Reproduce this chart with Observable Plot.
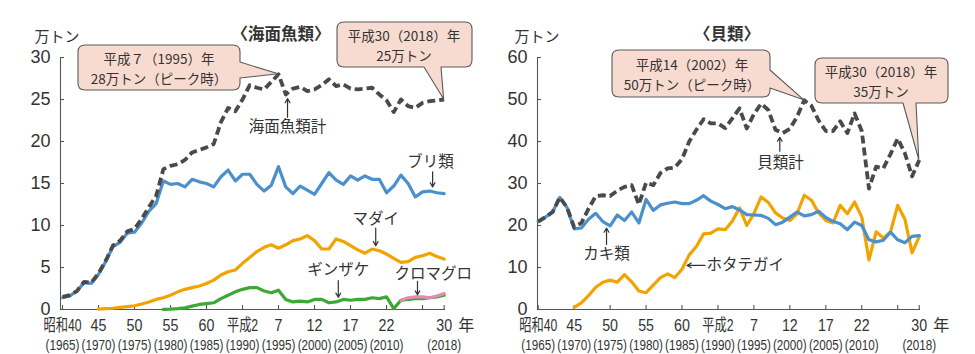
<!DOCTYPE html>
<html lang="ja"><head><meta charset="utf-8">
<script src="https://cdn.jsdelivr.net/npm/d3@7"></script>
<script src="https://cdn.jsdelivr.net/npm/@observablehq/plot@0.6"></script>
<style>
html,body{margin:0;padding:0;background:#fff;}
#wrap{display:flex;width:975px;height:354px;overflow:hidden;}
#wrap svg{display:block;flex:none;overflow:visible;}
</style></head><body><div id="wrap"></div>
<script>
const FONT = '"Liberation Sans", Arial, "Noto Sans CJK JP", sans-serif';
const JFONT = '"Noto Sans CJK JP", "Liberation Sans", sans-serif';

// ---------------- data (万トン) ----------------
// 海面魚類
const finfishTotal = [1.5,1.7,2.2,3.3,3.2,4.3,5.8,7.6,8.2,9.3,
  9.6,10.8,12.2,13.5,16.7,17.1,17.3,17.8,18.7,19.0,
  19.3,19.7,22.3,24.0,23.6,25.0,26.7,26.4,26.2,27.1,
  28.0,25.6,26.3,26.5,26.0,26.2,26.7,27.4,26.6,26.8,
  26.3,26.2,26.3,26.4,25.6,24.9,23.5,25.0,24.2,24.0,
  24.6,24.8,24.9,25.0];                       // 1965-2018
const yellowtail = [1.4,1.6,2.2,3.2,3.1,4.2,5.7,7.5,8.0,9.1,
  9.2,10.3,11.7,12.6,15.3,14.9,15.0,14.6,15.5,15.2,
  15.0,14.6,15.8,16.6,15.3,16.1,16.1,14.9,14.1,14.8,
  17.0,14.6,13.8,14.7,14.2,13.7,15.0,16.3,15.4,14.9,
  15.9,15.4,15.9,15.5,15.5,13.9,14.7,16.0,15.0,13.4,
  14.0,14.1,13.9,13.8];                       // 1965-2018 ブリ類
const redSeaBream = [0.05,0.1,0.15,0.25,0.35,0.45,0.65,0.9,1.2,1.4,
  1.7,2.1,2.4,2.6,2.8,3.1,3.5,4.1,4.5,4.7,
  5.5,6.2,6.9,7.4,7.7,7.3,7.7,8.2,8.4,8.8,
  8.2,7.2,7.2,8.4,8.1,7.6,7.1,6.7,7.2,7.0,
  6.6,6.1,5.6,5.7,6.2,6.4,6.7,6.3,6.0];      // 1970-2018 マダイ
const cohoSalmon = [0.02,0.05,0.1,0.2,0.4,0.6,0.7,0.8,1.3,1.7,
  2.1,2.4,2.6,2.6,2.2,2.0,2.3,1.2,0.9,1.0,
  0.9,1.2,1.2,0.8,0.9,1.2,1.1,1.2,1.2,1.4,
  1.3,1.5,0.1,1.1,1.2,1.3,1.3,1.4,1.5,1.7];  // 1979-2018 ギンザケ
const bluefinTuna = [1.1,1.4,1.5,1.5,1.4,1.6,1.9]; // 2012-2018 クロマグロ

// 貝類
const shellTotal = [20.9,22.0,23.2,26.7,24.3,19.6,20.6,24.0,27.0,27.2,
  27.0,28.3,29.2,29.6,25.0,30.2,29.6,32.5,33.6,33.8,
  35.8,40.0,42.8,45.3,44.3,44.3,43.2,45.5,47.9,43.1,
  46.5,49.0,47.5,42.8,42.0,43.0,45.9,49.8,48.5,45.0,
  42.5,42.5,44.8,42.0,46.7,42.5,28.8,34.0,33.6,37.0,
  40.7,37.2,31.7,35.6];                       // 1965-2018
const oyster = [20.9,22.0,23.2,26.7,24.3,19.2,19.4,21.5,22.9,20.9,
  19.9,22.5,21.2,23.2,20.6,26.2,23.6,24.9,25.3,25.6,
  25.2,25.2,26.0,27.1,25.8,25.0,24.0,24.5,23.7,22.6,
  22.5,22.4,21.7,20.2,20.8,22.0,23.2,22.3,22.6,23.4,
  21.9,21.0,20.4,19.0,20.8,20.0,16.6,16.1,16.5,18.4,
  16.6,15.9,17.4,17.6];                       // 1965-2018 カキ類
const scallop = [0.5,1.6,3.3,5.3,6.5,7.0,6.5,8.3,6.6,4.4,
  4.0,5.8,7.6,8.5,7.6,9.6,13.0,15.0,18.0,18.2,
  19.2,19.0,21.0,24.2,20.0,22.8,26.8,25.5,23.0,21.8,
  21.2,22.8,27.2,26.0,23.0,21.2,20.6,24.8,22.8,25.6,
  22.0,11.8,18.5,17.0,18.5,24.8,21.5,13.5,17.4]; // 1970-2018 ホタテガイ

// axes
const xTickYears = [1965,1970,1975,1980,1985,1990,1995,2000,2005,2010,2015,2018];
const xLabelYears = [1965,1970,1975,1980,1985,1990,1995,2000,2005,2010,2018];
const xLabelEra = ["昭和40","45","50","55","60","平成2","7","12","17","22","30"];
const xLabelAD = ["(1965)","(1970)","(1975)","(1980)","(1985)","(1990)","(1995)","(2000)","(2005)","(2010)","(2018)"];
const fishYTicks = [0,5,10,15,20,25,30];
const shellYTicks = [0,10,20,30,40,50,60];

// ---------------- helpers ----------------
const rows = (start, values) => values.map((v, i) => ({year: start + i, value: v}));
const xlab = xLabelYears.map((y, i) => ({year: y, era: xLabelEra[i], ad: xLabelAD[i]}));
const AX = "#555", TXT = "#333";
const C = {total: "#4a4a4a", blue: "#4b8fcd", orange: "#f3a300", green: "#3ca836", pink: "#e888b4"};
const ERA_SIZE = 17, AD_SIZE = 15;

function panel({width, ml, mr, xDomain, yMax, yTicks, lines, labels, startLabels, arrows}) {
  const height = 354, mt = 57, mb = 45;
  const frameW = width - ml - mr, frameH = height - mt - mb;
  return Plot.plot({
    width, height, marginLeft: ml, marginRight: mr, marginTop: mt, marginBottom: mb,
    x: {domain: xDomain, axis: null},
    y: {domain: [0, yMax], axis: null},
    style: {fontFamily: FONT, color: TXT, background: "transparent", overflow: "visible"},
    marks: [
      Plot.ruleX([xDomain[0]], {stroke: AX, strokeWidth: 1.1}),
      Plot.ruleY([0], {stroke: AX, strokeWidth: 1.1}),
      Plot.ruleY(yTicks, {stroke: AX, strokeWidth: 1.1, insetRight: frameW - 4}),
      Plot.ruleX(xTickYears, {stroke: AX, strokeWidth: 1.1, insetTop: frameH - 4}),
      Plot.text(yTicks, {frameAnchor: "left", y: d => d, text: d => String(d), textAnchor: "end", dx: -10, fontSize: 18, fill: TXT}),
      Plot.text(xlab, {x: "year", text: "era", frameAnchor: "bottom", lineAnchor: "middle", dy: 16, fontSize: ERA_SIZE, fill: TXT}),
      Plot.text(xlab, {x: "year", text: "ad", frameAnchor: "bottom", lineAnchor: "middle", dy: 36, fontSize: AD_SIZE, fill: TXT}),
      Plot.text([{year: 2018, t: "年"}], {x: "year", text: "t", frameAnchor: "bottom", lineAnchor: "middle", dx: 22, dy: 16, fontSize: 16, fontFamily: JFONT, fill: TXT}),
      ...lines.map(l => Plot.line(l.data, {x: "year", y: "value", stroke: l.stroke, strokeWidth: l.w || 3.2,
        strokeDasharray: l.dash, strokeLinejoin: "round", strokeLinecap: l.dash ? "butt" : "round"})),
      Plot.arrow(arrows, {x1: "x1", y1: "y1", x2: "x2", y2: "y2", stroke: TXT, strokeWidth: 1.2, headLength: 6}),
      Plot.text(labels, {x: "x", y: "y", text: "t", textAnchor: "middle", fontSize: 15.5, fontFamily: JFONT, fill: TXT}),
      Plot.text(startLabels || [], {x: "x", y: "y", text: "t", textAnchor: "start", fontSize: 15.5, fontFamily: JFONT, fill: TXT})
    ]
  });
}

const left = panel({
  width: 487, ml: 60, mr: 42, xDomain: [1964.72, 2018.19], yMax: 30, yTicks: fishYTicks,
  lines: [
    {data: rows(1970, redSeaBream), stroke: C.orange},
    {data: rows(1979, cohoSalmon), stroke: C.green},
    {data: rows(2012, bluefinTuna), stroke: C.pink},
    {data: rows(1965, yellowtail), stroke: C.blue},
    {data: rows(1965, finfishTotal), stroke: C.total, dash: "8,4", w: 3.8}
  ],
  labels: [
    {x: 1996.25, y: 21.7, t: "海面魚類計"},
    {x: 2016.1, y: 17.6, t: "ブリ類"},
    {x: 2008.5, y: 10.75, t: "マダイ"},
    {x: 2003.3, y: 4.65, t: "ギンザケ"},
    {x: 2016.5, y: 4.2, t: "クロマグロ"}
  ],
  arrows: [
    {x1: 1996.25, y1: 22.9, x2: 1996.25, y2: 25.1},
    {x1: 2016.4, y1: 16.4, x2: 2016.4, y2: 14.6},
    {x1: 2008.5, y1: 9.7, x2: 2008.5, y2: 7.6},
    {x1: 2003.3, y1: 3.45, x2: 2003.3, y2: 1.45},
    {x1: 2014.3, y1: 3.35, x2: 2014.3, y2: 1.75}
  ]
});

const right = panel({
  width: 488, ml: 50, mr: 55, xDomain: [1964.9, 2018.17], yMax: 60, yTicks: shellYTicks,
  lines: [
    {data: rows(1970, scallop), stroke: C.orange},
    {data: rows(1965, oyster), stroke: C.blue},
    {data: rows(1965, shellTotal), stroke: C.total, dash: "8,4", w: 3.8}
  ],
  labels: [
    {x: 1998.7, y: 34.8, t: "貝類計"},
    {x: 1974.5, y: 13.2, t: "カキ類"}
  ],
  startLabels: [
    {x: 1988.4, y: 10.5, t: "ホタテガイ"}
  ],
  arrows: [
    {x1: 1998.6, y1: 37.7, x2: 1998.6, y2: 41.0},
    {x1: 1974.5, y1: 15.5, x2: 1974.5, y2: 19.4},
    {x1: 1988.2, y1: 10.5, x2: 1985.7, y2: 10.5}
  ]
});

const wrap = document.getElementById("wrap");
wrap.append(left, right);

// condense the x-axis labels horizontally (narrow face of the original)
const eraSet = new Set(xLabelEra), adSet = new Set(xLabelAD);
for (const s of [left, right]) {
  s.querySelectorAll("text").forEach(t => {
    const str = t.textContent, fs = parseFloat(getComputedStyle(t).fontSize);
    let f = null;
    if (fs === ERA_SIZE && eraSet.has(str)) f = /[^\x00-\x7f]/.test(str) ? 0.72 : 0.84;
    else if (fs === AD_SIZE && adSet.has(str)) f = 0.78;
    if (f) {
      const x = parseFloat(t.getAttribute("x") || 0);
      const prev = t.getAttribute("transform") || "";
      t.setAttribute("transform", `${prev} translate(${x},0) scale(${f},1) translate(${-x},0)`.trim());
    }
  });
}

// furniture: unit, title, callouts
function addText(svg, x, y, str, o = {}) {
  d3.select(svg).append("text").attr("x", x).attr("y", y).text(str)
    .attr("text-anchor", o.anchor || "middle").attr("dominant-baseline", "central")
    .attr("font-family", JFONT).attr("font-size", o.size || 15)
    .attr("font-weight", o.bold ? "bold" : null).attr("fill", TXT);
}
function callout(svg, box, side, a, b, tipData, lines, cx, ly, gap) {
  const xs = svg.scale("x"), ys = svg.scale("y");
  const tx = xs.apply(tipData[0]), ty = ys.apply(tipData[1]);
  const {x0, y0, x1, y1} = box, r = 7;
  let p;
  if (side === "right") {
    p = `M${x0+r},${y0}H${x1-r}Q${x1},${y0} ${x1},${y0+r}V${a}L${tx},${ty}L${x1},${b}V${y1-r}Q${x1},${y1} ${x1-r},${y1}H${x0+r}Q${x0},${y1} ${x0},${y1-r}V${y0+r}Q${x0},${y0} ${x0+r},${y0}Z`;
  } else {
    p = `M${x0+r},${y0}H${x1-r}Q${x1},${y0} ${x1},${y0+r}V${y1-r}Q${x1},${y1} ${x1-r},${y1}H${b}L${tx},${ty}L${a},${y1}H${x0+r}Q${x0},${y1} ${x0},${y1-r}V${y0+r}Q${x0},${y0} ${x0+r},${y0}Z`;
  }
  d3.select(svg).append("path").attr("d", p).attr("fill", "#f8dbd0").attr("stroke", "#5a5a5a").attr("stroke-width", 1.1).attr("stroke-linejoin", "round");
  lines.forEach((s, i) => addText(svg, cx, ly + i * gap, s, {size: 13.5}));
}

addText(left, 57, 35.5, "万トン", {size: 15});
addText(left, 281, 33, "〈海面魚類〉", {size: 16.5, bold: true});
callout(left, {x0: 78, y0: 45, x1: 240, y1: 90}, "right", 62, 78, [1995, 28],
  ["平成７（1995）年", "28万トン（ピーク時）"], 159, 57.5, 20);
callout(left, {x0: 337, y0: 22, x1: 472, y1: 67}, "bottom", 424, 441, [2018, 25],
  ["平成30（2018）年", "25万トン"], 404, 34.5, 20);

addText(right, 50, 35.5, "万トン", {size: 15});
addText(right, 240, 33, "〈貝類〉", {size: 16.5, bold: true});
callout(right, {x0: 125, y0: 50, x1: 283, y1: 97}, "right", 70, 88, [2002, 49.8],
  ["平成14（2002）年", "50万トン（ピーク時）"], 205, 63.5, 20);
callout(right, {x0: 328, y0: 58, x1: 461, y1: 103}, "bottom", 416, 429, [2018, 35.6],
  ["平成30（2018）年", "35万トン"], 394, 70.5, 20);
</script></body></html>
